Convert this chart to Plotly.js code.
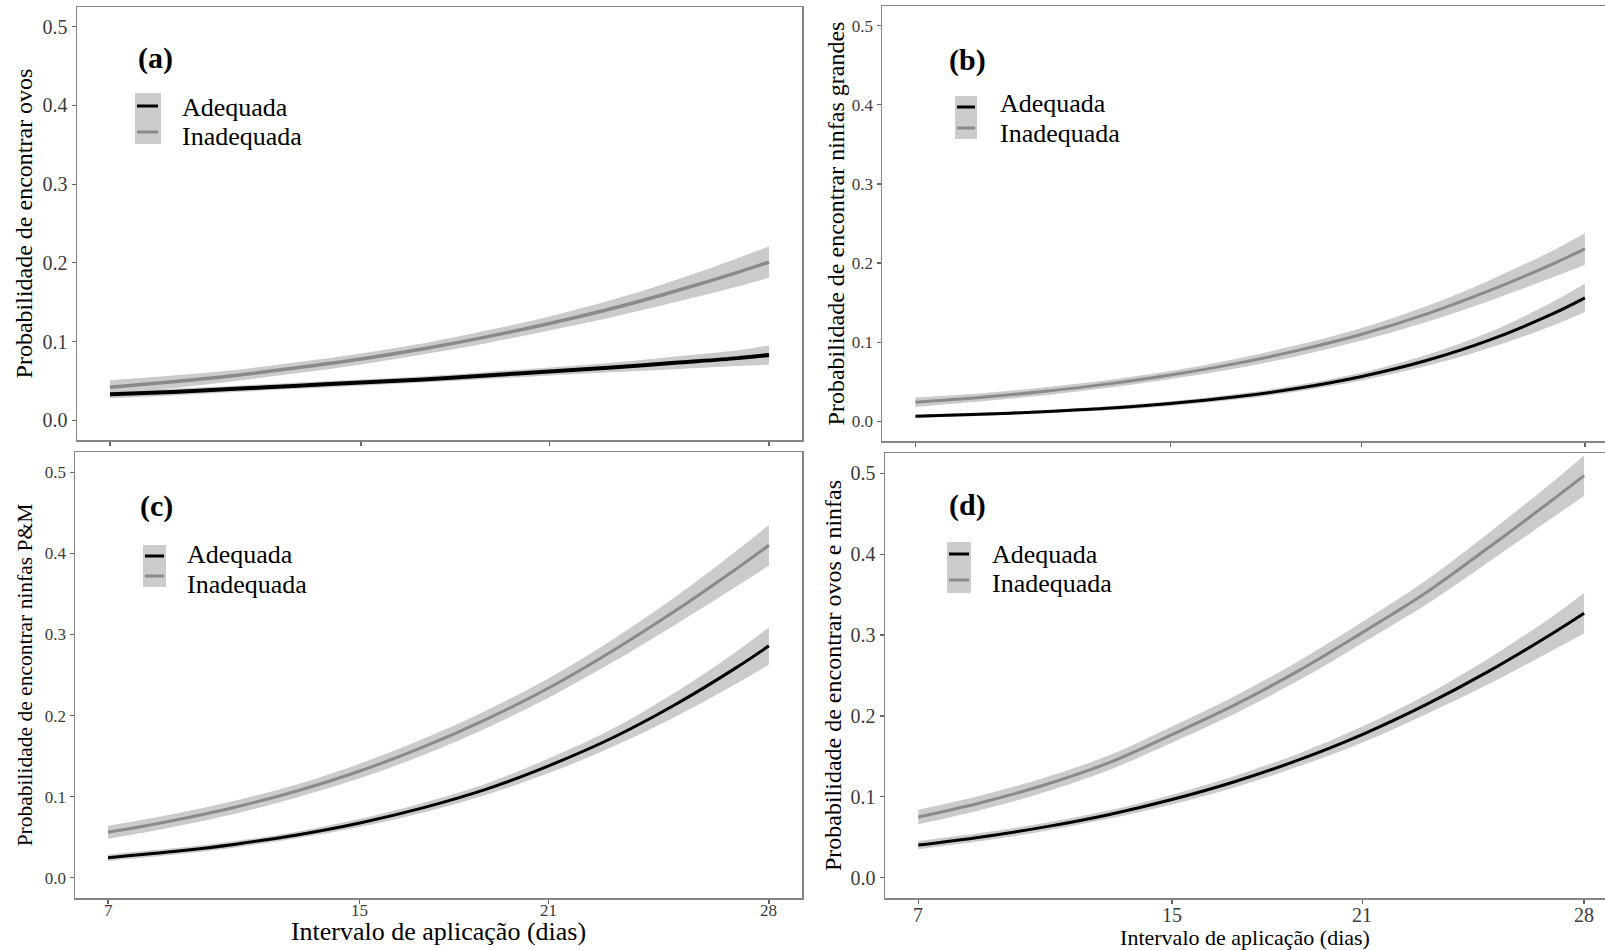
<!DOCTYPE html>
<html>
<head>
<meta charset="utf-8">
<script src="https://cdn.plot.ly/plotly-3.0.1.min.js"></script>
<style>html,body{margin:0;padding:0;background:#fff;}#chart{width:1605px;height:950px;}</style>
</head>
<body>
<div id="chart"></div>
<script>
// ---------------- DATA ----------------
const days = [7, 9, 11, 13, 15, 17, 19, 21, 23, 25, 27, 28];
const xTicks = [7, 15, 21, 28];
const yTicks = [0, 0.1, 0.2, 0.3, 0.4, 0.5];
const seriesNames = ['Adequada', 'Inadequada'];
const panelLabels = ['(a)', '(b)', '(c)', '(d)'];
const yTitles = [
  'Probabilidade de encontrar ovos',
  'Probabilidade de encontrar ninfas grandes',
  'Probabilidade de encontrar ninfas P&M',
  'Probabilidade de encontrar ovos e ninfas'
];
const xTitle = 'Intervalo de aplicação (dias)';

// (a) ovos
const a_adequada    = [0.033, 0.036, 0.040, 0.044, 0.048, 0.052, 0.057, 0.062, 0.067, 0.073, 0.079, 0.083];
const a_adequada_lo = [0.028, 0.0315, 0.036, 0.040, 0.044, 0.048, 0.0525, 0.057, 0.061, 0.065, 0.069, 0.071];
const a_adequada_hi = [0.038, 0.0405, 0.044, 0.048, 0.052, 0.056, 0.0615, 0.067, 0.073, 0.081, 0.089, 0.095];
const a_inadequada    = [0.042, 0.049, 0.057, 0.067, 0.078, 0.091, 0.106, 0.123, 0.142, 0.164, 0.188, 0.201];
const a_inadequada_lo = [0.033, 0.041, 0.050, 0.060, 0.071, 0.084, 0.098, 0.114, 0.131, 0.150, 0.170, 0.181];
const a_inadequada_hi = [0.051, 0.057, 0.064, 0.074, 0.085, 0.098, 0.114, 0.132, 0.153, 0.178, 0.206, 0.221];

// (b) ninfas grandes
const b_adequada    = [0.0063, 0.0087, 0.012, 0.0163, 0.0224, 0.0306, 0.0417, 0.0566, 0.0764, 0.1025, 0.136, 0.156];
const b_adequada_lo = [0.0043, 0.0067, 0.010, 0.0138, 0.0194, 0.0271, 0.0377, 0.0516, 0.0694, 0.0925, 0.121, 0.138];
const b_adequada_hi = [0.0083, 0.0107, 0.014, 0.0188, 0.0254, 0.0341, 0.0457, 0.0616, 0.0834, 0.1125, 0.151, 0.174];
const b_inadequada    = [0.024, 0.030, 0.0376, 0.0469, 0.0584, 0.0725, 0.0896, 0.110, 0.135, 0.165, 0.199, 0.218];
const b_inadequada_lo = [0.018, 0.025, 0.0326, 0.0419, 0.0534, 0.0665, 0.0826, 0.102, 0.125, 0.152, 0.182, 0.198];
const b_inadequada_hi = [0.030, 0.035, 0.0426, 0.0519, 0.0634, 0.0785, 0.0966, 0.118, 0.145, 0.178, 0.216, 0.238];

// (c) ninfas P&M
const c_adequada    = [0.0247, 0.0319, 0.0411, 0.0528, 0.0676, 0.0862, 0.109, 0.138, 0.172, 0.213, 0.260, 0.286];
const c_adequada_lo = [0.0207, 0.0279, 0.0371, 0.0488, 0.0626, 0.0802, 0.102, 0.129, 0.161, 0.198, 0.240, 0.263];
const c_adequada_hi = [0.0287, 0.0359, 0.0451, 0.0568, 0.0726, 0.0922, 0.116, 0.147, 0.183, 0.228, 0.280, 0.309];
const c_inadequada    = [0.056, 0.070, 0.0866, 0.107, 0.1316, 0.161, 0.195, 0.234, 0.279, 0.3285, 0.382, 0.410];
const c_inadequada_lo = [0.048, 0.062, 0.0786, 0.099, 0.1226, 0.151, 0.184, 0.222, 0.265, 0.3115, 0.360, 0.385];
const c_inadequada_hi = [0.064, 0.078, 0.0946, 0.115, 0.1406, 0.171, 0.206, 0.246, 0.293, 0.3455, 0.404, 0.435];

// (d) ovos e ninfas
const d_adequada    = [0.0404, 0.0505, 0.0629, 0.078, 0.0967, 0.119, 0.1457, 0.177, 0.2137, 0.2554, 0.302, 0.327];
const d_adequada_lo = [0.0354, 0.0455, 0.0579, 0.073, 0.0907, 0.112, 0.1377, 0.167, 0.2017, 0.2394, 0.281, 0.302];
const d_adequada_hi = [0.0454, 0.0555, 0.0679, 0.083, 0.1027, 0.126, 0.1537, 0.187, 0.2257, 0.2714, 0.323, 0.352];
const d_inadequada    = [0.075, 0.093, 0.115, 0.142, 0.177, 0.214, 0.256, 0.303, 0.352, 0.4085, 0.467, 0.497];
const d_inadequada_lo = [0.066, 0.084, 0.106, 0.133, 0.167, 0.203, 0.244, 0.290, 0.337, 0.3905, 0.445, 0.472];
const d_inadequada_hi = [0.084, 0.102, 0.124, 0.151, 0.187, 0.225, 0.268, 0.316, 0.367, 0.4265, 0.489, 0.522];

// ---------------- STYLE / LAYOUT ----------------
const W = 1605, H = 950;
const SERIF = 'Liberation Serif, Times New Roman, serif';
const BAND = '#cbcbcb';
const LINE_COLORS = ['#000000', '#8a8a8a'];
const FRAME = '#858585';
const TICKTXT = '#3a3a3a';

const panels = [
  {ad: a_adequada, adLo: a_adequada_lo, adHi: a_adequada_hi, in: a_inadequada, inLo: a_inadequada_lo, inHi: a_inadequada_hi,
   box: [77, 7, 802, 440], xr: [5.95, 29.05], lw: [4, 3.5], tickFs: 20, xTickLabels: false, yTitleFs: 24, yStand: 3, full: true,
   legend: {box: [135, 93, 161, 144], yb: 106, yg: 132, seg: [137, 158], tx: 180, ty1: 107, ty2: 137}, lab: [155, 58]},
  {ad: b_adequada, adLo: b_adequada_lo, adHi: b_adequada_hi, in: b_inadequada, inLo: b_inadequada_lo, inHi: b_inadequada_hi,
   box: [882, 6, 1605, 441], xr: [5.95, 28.63], lw: [3, 3], tickFs: 17, xTickLabels: false, yTitleFs: 24, yStand: 0, full: false,
   legend: {box: [955, 96, 977, 139], yb: 107, yg: 128, seg: [957, 975], tx: 998, ty1: 104, ty2: 134}, lab: [967, 60]},
  {ad: c_adequada, adLo: c_adequada_lo, adHi: c_adequada_hi, in: c_inadequada, inLo: c_inadequada_lo, inHi: c_inadequada_hi,
   box: [75, 452, 802, 898], xr: [5.95, 29.05], lw: [3, 3], tickFs: 17, xTickLabels: true, yTitleFs: 21.5, yStand: 6, full: true,
   xTitleFs: 26, xLabY: 910, xTitleStand: 19,
   legend: {box: [143, 545, 166, 587], yb: 556, yg: 576, seg: [145, 164], tx: 185, ty1: 554, ty2: 584}, lab: [156, 506]},
  {ad: d_adequada, adLo: d_adequada_lo, adHi: d_adequada_hi, in: d_inadequada, inLo: d_inadequada_lo, inHi: d_inadequada_hi,
   box: [885, 453, 1605, 898], xr: [5.95, 28.66], lw: [3, 3], tickFs: 20, xTickLabels: true, yTitleFs: 24, yStand: 2, full: false,
   xTitleFs: 22, xLabY: 915, xTitleStand: 30,
   legend: {box: [947, 542, 971, 593], yb: 554, yg: 580, seg: [949, 969], tx: 990, ty1: 554, ty2: 583}, lab: [967, 505]}
];

const px = x => x / W;
const py = y => 1 - y / H;

const traces = [];
const layout = {
  width: W, height: H,
  margin: {l: 0, r: 0, t: 0, b: 0},
  paper_bgcolor: '#ffffff', plot_bgcolor: '#ffffff',
  showlegend: false,
  font: {family: SERIF, color: '#000'},
  shapes: [], annotations: []
};

panels.forEach((p, i) => {
  const n = i + 1;
  const xa = 'x' + (n === 1 ? '' : n), ya = 'y' + (n === 1 ? '' : n);
  const xk = 'xaxis' + (n === 1 ? '' : n), yk = 'yaxis' + (n === 1 ? '' : n);
  const groups = [
    {mean: p.ad, lo: p.adLo, hi: p.adHi, name: seriesNames[0], color: LINE_COLORS[0], w: p.lw[0]},
    {mean: p.in, lo: p.inLo, hi: p.inHi, name: seriesNames[1], color: LINE_COLORS[1], w: p.lw[1]}
  ];
  groups.forEach(g => {
    traces.push({type: 'scatter', mode: 'lines', x: days, y: g.lo, xaxis: xa, yaxis: ya,
      line: {width: 0, shape: 'spline', smoothing: 1}, hoverinfo: 'skip', showlegend: false});
    traces.push({type: 'scatter', mode: 'lines', x: days, y: g.hi, xaxis: xa, yaxis: ya,
      fill: 'tonexty', fillcolor: BAND,
      line: {width: 0, shape: 'spline', smoothing: 1}, hoverinfo: 'skip', showlegend: false});
  });
  [groups[1], groups[0]].forEach(g => {
    traces.push({type: 'scatter', mode: 'lines', x: days, y: g.mean, xaxis: xa, yaxis: ya, name: g.name,
      line: {color: g.color, width: g.w, shape: 'spline', smoothing: 1}, showlegend: false});
  });

  const [x0, y0, x1, y1] = p.box;
  layout[xk] = {
    domain: [px(x0), px(x1)], anchor: ya, range: p.xr, fixedrange: true,
    tickmode: 'array', tickvals: xTicks, ticktext: xTicks.map(String),
    showticklabels: false, ticks: 'outside', ticklen: 4, tickwidth: 1.2, tickcolor: '#666',
    showgrid: false, zeroline: false,
    showline: true, linecolor: FRAME, linewidth: 1.5, mirror: true
  };
  if (p.xTickLabels) {
    layout[xk].title = {text: xTitle, font: {family: SERIF, size: p.xTitleFs, color: '#000'}, standoff: p.xTitleStand};
    xTicks.forEach(t => {
      layout.annotations.push({xref: xa, yref: 'paper', x: t, y: py(p.xLabY),
        xanchor: 'center', yanchor: 'middle', showarrow: false, text: String(t),
        font: {family: SERIF, size: p.tickFs, color: TICKTXT}});
    });
  }
  layout[yk] = {
    domain: [py(y1), py(y0)], anchor: xa, range: [-0.025, 0.525], fixedrange: true,
    tickmode: 'array', tickvals: yTicks, ticktext: yTicks.map(v => v.toFixed(1)),
    ticks: 'outside', ticklen: 4, tickwidth: 1.2, tickcolor: '#666',
    tickfont: {family: SERIF, size: p.tickFs, color: TICKTXT},
    showgrid: false, zeroline: false,
    showline: true, linecolor: FRAME, linewidth: 1.5, mirror: p.full,
    title: {text: yTitles[i], font: {family: SERIF, size: p.yTitleFs, color: '#000'}, standoff: p.yStand}
  };

  layout.annotations.push({xref: 'paper', yref: 'paper', x: px(p.lab[0]), y: py(p.lab[1]),
    xanchor: 'center', yanchor: 'middle', showarrow: false,
    text: '<b>' + panelLabels[i] + '</b>', font: {family: SERIF, size: 30, color: '#000'}});

  const L = p.legend;
  layout.shapes.push({type: 'rect', xref: 'paper', yref: 'paper',
    x0: px(L.box[0]), x1: px(L.box[2]), y0: py(L.box[3]), y1: py(L.box[1]),
    fillcolor: BAND, line: {width: 0}, layer: 'above'});
  layout.shapes.push({type: 'line', xref: 'paper', yref: 'paper',
    x0: px(L.seg[0]), x1: px(L.seg[1]), y0: py(L.yb), y1: py(L.yb),
    line: {color: LINE_COLORS[0], width: 3}, layer: 'above'});
  layout.shapes.push({type: 'line', xref: 'paper', yref: 'paper',
    x0: px(L.seg[0]), x1: px(L.seg[1]), y0: py(L.yg), y1: py(L.yg),
    line: {color: LINE_COLORS[1], width: 3}, layer: 'above'});
  [[seriesNames[0], L.ty1], [seriesNames[1], L.ty2]].forEach(([t, yy]) => {
    layout.annotations.push({xref: 'paper', yref: 'paper', x: px(L.tx), y: py(yy),
      xanchor: 'left', yanchor: 'middle', showarrow: false, text: t,
      font: {family: SERIF, size: 26, color: '#000'}});
  });
});

Plotly.newPlot('chart', traces, layout, {displayModeBar: false, staticPlot: true});
</script>
</body>
</html>
